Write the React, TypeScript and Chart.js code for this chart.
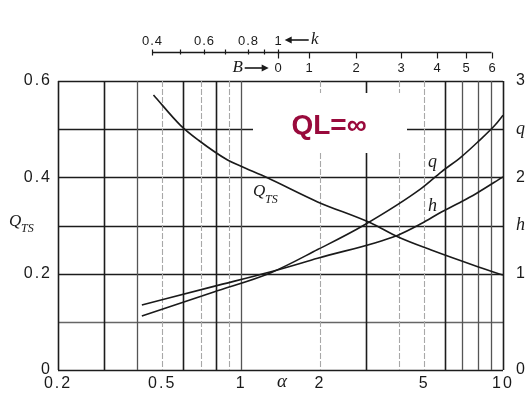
import { useEffect, useRef } from "react";
import { Chart, registerables } from "chart.js";

Chart.register(...registerables);

// α axis (logarithmic): grid values and the values that carry a label
const alphaGridValues = [0.2, 0.3, 0.4, 0.5, 0.6, 0.7, 0.8, 0.9, 1, 2, 3, 4, 5, 6, 7, 8, 9, 10];
const alphaTickLabels = ["0.2", "0.5", "1", "2", "5", "10"];

// Left scale (Q_TS)
const qtsGridValues = [0, 0.1, 0.2, 0.3, 0.4, 0.5, 0.6];
const qtsTickLabels = ["0", "0.2", "0.4", "0.6"];

// Right scale (q, h)
const rightTickValues = [0, 0.5, 1, 1.5, 2, 2.5, 3];
const rightTickLabels = ["0", "", "1", "h", "2", "q", "3"];

// Q_TS versus α
const qtsAlpha = [0.463, 0.587, 0.688, 0.888, 1.0, 1.26, 1.96, 3.13, 3.98, 5.32, 8.06, 10];
const qtsValues = [0.571, 0.508, 0.477, 0.436, 0.423, 0.399, 0.349, 0.305, 0.276, 0.249, 0.214, 0.197];

// q versus α
const qAlpha = [0.418, 0.787, 1.3, 1.96, 2.93, 4.88, 5.82, 6.93, 8.03, 9.31, 10];
const qValues = [0.56, 0.81, 1.01, 1.25, 1.5, 1.885, 2.057, 2.213, 2.37, 2.54, 2.645];

// h versus α
const hAlpha = [0.418, 0.787, 1.3, 1.96, 3.97, 4.88, 5.82, 6.93, 7.88, 10];
const hValues = [0.674, 0.868, 1.02, 1.16, 1.4, 1.52, 1.64, 1.746, 1.83, 2.005];

// Auxiliary k scale above the chart, placed at the equivalent α
const kTickLabels = ["0.4", "", "0.6", "", "0.8", "", "1"];
const kAlpha = [0.458, 0.587, 0.72, 0.87, 1.06, 1.22, 1.38];

// Auxiliary B scale, placed at the equivalent α
const bTickLabels = ["0", "1", "2", "3", "4", "5", "6"];
const bAlpha = [1.38, 1.82, 2.75, 4.08, 5.61, 7.25, 9.04];

const TITLE = "QL=∞";

const SANS = "'Liberation Sans', Arial, sans-serif";
const SERIF = "'Liberation Serif', 'Times New Roman', serif";
const INK = "#1a1a1a";

// Line weight for each α grid line
function alphaLineStyle(v: number) {
  const heavy = [0.2, 0.3, 0.6, 0.8, 3, 6, 10];
  const medium = [0.4, 1, 7, 8, 9];
  if (heavy.some((h) => Math.abs(h - v) < 1e-9)) return { color: "#1c1c1c", width: 1.6, dash: [] as number[] };
  if (medium.some((h) => Math.abs(h - v) < 1e-9)) return { color: "#555", width: 1.3, dash: [] as number[] };
  return { color: "#a8a8a8", width: 1.1, dash: [6, 2] };
}

function qtsLineStyle(v: number) {
  if (Math.abs(v - 0.1) < 1e-9) return { color: "#666", width: 1.3, dash: [] as number[] };
  return { color: "#1c1c1c", width: 1.5, dash: [] as number[] };
}

function arrow(ctx: CanvasRenderingContext2D, x1: number, x2: number, y: number) {
  // shaft from x1 to x2, head at x2
  const dir = x2 > x1 ? 1 : -1;
  ctx.beginPath();
  ctx.moveTo(x1, y);
  ctx.lineTo(x2 - dir * 5, y);
  ctx.lineWidth = 1.6;
  ctx.stroke();
  ctx.beginPath();
  ctx.moveTo(x2, y);
  ctx.lineTo(x2 - dir * 7, y - 3.5);
  ctx.lineTo(x2 - dir * 7, y + 3.5);
  ctx.closePath();
  ctx.fill();
}

const decor = {
  id: "decor",
  beforeDraw(chart: any) {
    const ctx = chart.ctx as CanvasRenderingContext2D;
    ctx.save();
    ctx.fillStyle = "#fff";
    ctx.fillRect(0, 0, chart.width, chart.height);
    ctx.restore();
    (ctx as any).letterSpacing = "2px";
  },
  beforeDatasetsDraw(chart: any) {
    const ctx = chart.ctx as CanvasRenderingContext2D;
    const xs = chart.scales.x;
    const ys = chart.scales.y;
    const { left, right, top, bottom } = chart.chartArea;
    ctx.save();
    ctx.lineCap = "butt";
    for (const v of qtsGridValues) {
      const s = qtsLineStyle(v);
      const py = Math.round(ys.getPixelForValue(v)) + 0.5;
      ctx.strokeStyle = s.color;
      ctx.lineWidth = s.width;
      ctx.setLineDash(s.dash);
      ctx.beginPath();
      ctx.moveTo(left, py);
      ctx.lineTo(right, py);
      ctx.stroke();
    }
    for (const v of alphaGridValues) {
      const s = alphaLineStyle(v);
      const px = Math.round(xs.getPixelForValue(v)) + 0.5;
      ctx.strokeStyle = s.color;
      ctx.lineWidth = s.width;
      ctx.setLineDash(s.dash);
      ctx.beginPath();
      ctx.moveTo(px, top);
      ctx.lineTo(px, bottom);
      ctx.stroke();
    }
    ctx.setLineDash([]);
    // clear panel behind the title
    ctx.fillStyle = "#fff";
    ctx.fillRect(253, 93, 154, 60);
    ctx.restore();
  },
  afterDraw(chart: any) {
    const ctx = chart.ctx as CanvasRenderingContext2D;
    const xs = chart.scales.x;
    (ctx as any).letterSpacing = "0px";
    ctx.save();
    (ctx as any).letterSpacing = "0px";

    // title
    ctx.fillStyle = "#990a3c";
    ctx.font = `bold 28px ${SANS}`;
    ctx.textAlign = "center";
    ctx.textBaseline = "middle";
    ctx.fillText(TITLE, 329, 126);

    ctx.fillStyle = INK;
    ctx.strokeStyle = INK;

    // Q_TS label on the left axis
    ctx.textAlign = "left";
    ctx.font = `italic 17px ${SERIF}`;
    ctx.fillText("Q", 9, 222);
    ctx.font = `italic 12px ${SERIF}`;
    ctx.fillText("TS", 21, 229);

    // curve labels
    ctx.font = `italic 17px ${SERIF}`;
    ctx.fillText("Q", 253, 192);
    ctx.font = `italic 12px ${SERIF}`;
    ctx.fillText("TS", 265, 200);
    ctx.font = `italic 18px ${SERIF}`;
    ctx.fillText("q", 428, 162);
    ctx.fillText("h", 428, 206);

    // α axis title
    ctx.font = `italic 19px ${SERIF}`;
    ctx.textAlign = "center";
    ctx.fillText("α", 282, 382);

    // auxiliary k / B scale
    const yLine = 52.5;
    const xStart = xs.getPixelForValue(kAlpha[0]);
    const xEnd = xs.getPixelForValue(bAlpha[bAlpha.length - 1]);
    ctx.lineWidth = 1.5;
    ctx.beginPath();
    ctx.moveTo(xStart, yLine);
    ctx.lineTo(xEnd, yLine);
    ctx.stroke();

    (ctx as any).letterSpacing = "1px";
    ctx.font = `13px ${SANS}`;
    ctx.textBaseline = "middle";
    ctx.lineWidth = 1.2;
    kAlpha.forEach((a, i) => {
      const px = Math.round(xs.getPixelForValue(a)) + 0.5;
      ctx.beginPath();
      ctx.moveTo(px, yLine - 3);
      ctx.lineTo(px, yLine + (i === 0 ? 3 : 2));
      ctx.stroke();
      if (kTickLabels[i]) ctx.fillText(kTickLabels[i], px, 41);
    });
    bAlpha.forEach((a, i) => {
      const px = Math.round(xs.getPixelForValue(a)) + 0.5;
      ctx.beginPath();
      ctx.moveTo(px, yLine);
      ctx.lineTo(px, yLine + 6);
      ctx.stroke();
      ctx.fillText(bTickLabels[i], px, 68);
    });
    (ctx as any).letterSpacing = "0px";

    const kOne = xs.getPixelForValue(kAlpha[kAlpha.length - 1]);
    arrow(ctx, kOne + 31, kOne + 7, 40);
    ctx.font = `italic 17px ${SERIF}`;
    ctx.textAlign = "center";
    ctx.fillText("k", kOne + 37, 40);

    const bZero = xs.getPixelForValue(bAlpha[0]);
    ctx.fillText("B", bZero - 40, 68);
    arrow(ctx, bZero - 33, bZero - 9, 68);

    ctx.restore();
  },
};

export default function App() {
  const canvasRef = useRef<HTMLCanvasElement | null>(null);

  useEffect(() => {
    const canvas = canvasRef.current;
    if (!canvas) return;

    const toPoints = (xs: number[], ys: number[]) => xs.map((x, i) => ({ x, y: ys[i] }));
    const curve = {
      borderColor: INK,
      borderWidth: 1.6,
      pointRadius: 0,
      fill: false,
      cubicInterpolationMode: "monotone" as const,
    };

    const chart = new Chart(canvas, {
      type: "line",
      data: {
        datasets: [
          { ...curve, label: "Q_TS", data: toPoints(qtsAlpha, qtsValues), yAxisID: "y" },
          { ...curve, label: "q", data: toPoints(qAlpha, qValues), yAxisID: "y2" },
          { ...curve, label: "h", data: toPoints(hAlpha, hValues), yAxisID: "y2" },
        ],
      },
      options: {
        responsive: false,
        animation: false,
        devicePixelRatio: 1,
        layout: { padding: { top: 81, left: 0, right: 0, bottom: 0 } },
        plugins: { legend: { display: false }, tooltip: { enabled: false }, title: { display: false } },
        scales: {
          x: {
            type: "logarithmic",
            min: 0.2,
            max: 10,
            grid: { display: false, drawTicks: false },
            border: { display: false },
            afterBuildTicks: (s: any) => {
              s.ticks = alphaGridValues.map((v) => ({ value: v }));
            },
            afterFit: (s: any) => {
              s.height = 26;
            },
            ticks: {
              autoSkip: false,
              maxRotation: 0,
              minRotation: 0,
              padding: 4,
              color: INK,
              font: { family: SANS, size: 16 },
              callback: (v: any) => (alphaTickLabels.includes(String(v)) ? String(v) : ""),
            },
          },
          y: {
            type: "linear",
            position: "left",
            min: 0,
            max: 0.6,
            grid: { display: false, drawTicks: false },
            border: { display: false },
            afterBuildTicks: (s: any) => {
              s.ticks = qtsGridValues.map((v) => ({ value: v }));
            },
            afterFit: (s: any) => {
              s.width = 58;
            },
            ticks: {
              padding: 6,
              color: INK,
              font: { family: SANS, size: 16 },
              callback: (v: any) => (qtsTickLabels.includes(String(v)) ? String(v) : ""),
            },
          },
          y2: {
            type: "linear",
            position: "right",
            min: 0,
            max: 3,
            grid: { display: false, drawTicks: false },
            border: { display: false },
            afterBuildTicks: (s: any) => {
              s.ticks = rightTickValues.map((v) => ({ value: v }));
            },
            afterFit: (s: any) => {
              s.width = 27;
            },
            ticks: {
              padding: 13,
              color: INK,
              font: (c: any) => {
                const i = rightTickValues.indexOf(c.tick ? c.tick.value : -1);
                const t = rightTickLabels[i] || "";
                return /[a-z]/.test(t)
                  ? { family: SERIF, size: 18, style: "italic" as const }
                  : { family: SANS, size: 16 };
              },
              callback: (v: any) => rightTickLabels[rightTickValues.indexOf(Number(v))] || "",
            },
          },
        },
      },
      plugins: [decor],
    });

    return () => chart.destroy();
  }, []);

  return (
    <div style={{ position: "fixed", left: 0, top: 0, width: 530, height: 396, background: "#fff" }}>
      <canvas ref={canvasRef} width={530} height={396} />
    </div>
  );
}
